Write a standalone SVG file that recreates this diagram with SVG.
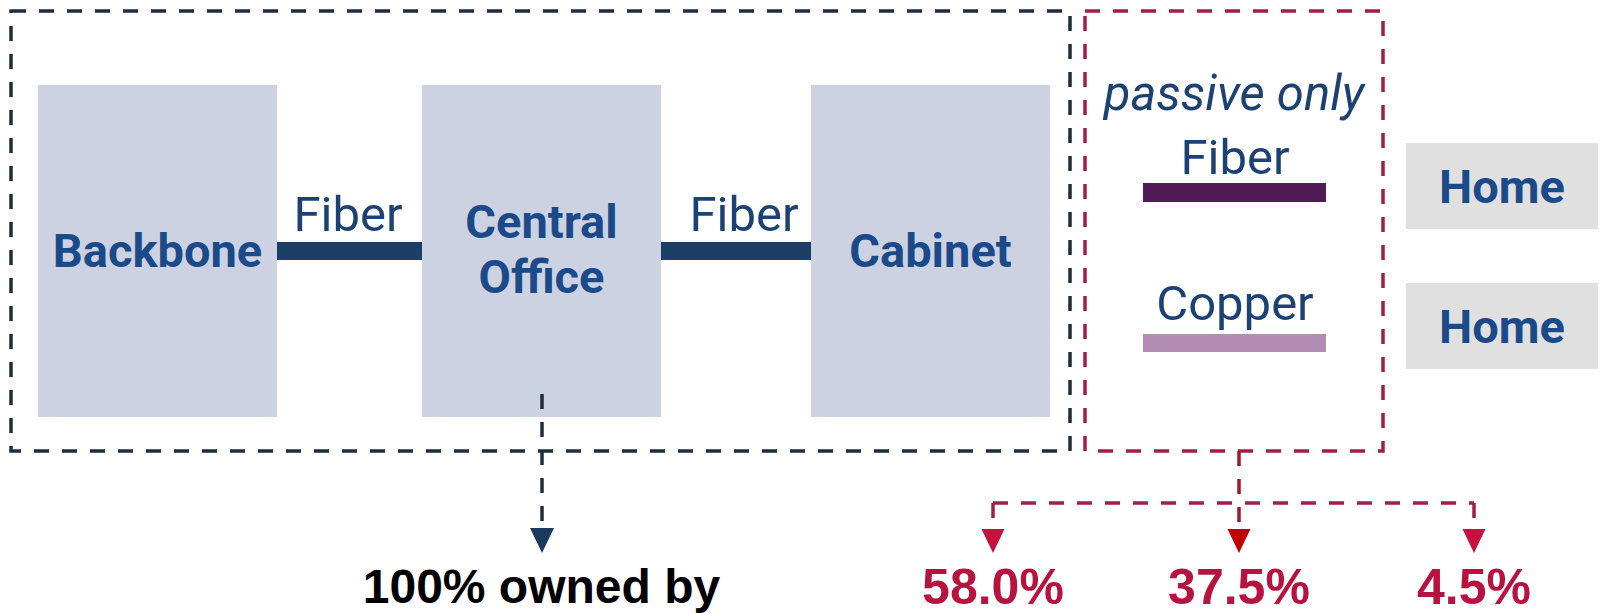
<svg xmlns="http://www.w3.org/2000/svg" width="1604" height="613" viewBox="0 0 1604 613">
<style>
.box{fill:#cdd2e3}
.home{fill:#e0e0e0}
.bold{font-family:Roboto,"Liberation Sans",sans-serif;font-weight:bold;font-size:47px;fill:#1b4a8a;text-anchor:middle}
.reg{font-family:Roboto,"Liberation Sans",sans-serif;font-size:49px;fill:#1b4272;text-anchor:middle}
.dkdash{fill:none;stroke:#1e2d3d;stroke-width:3.5;stroke-dasharray:15 13}
.rddash{fill:none;stroke:#a51d47;stroke-width:3.5;stroke-dasharray:15 13}
.pct{font-family:"Liberation Sans",Arial,sans-serif;font-weight:bold;font-size:50px;fill:#b8133f;text-anchor:middle}
</style>
<rect width="1604" height="613" fill="#ffffff"/>
<g id="frames">
<rect class="dkdash" x="11" y="11" width="1059" height="440"/>
<rect class="rddash" x="1085" y="11" width="298" height="440"/>
</g>
<g id="backbone"><rect class="box" x="38" y="85" width="239" height="332"/><text class="bold" x="157.5" y="267">Backbone</text></g>
<g id="central-office"><rect class="box" x="422" y="85" width="239" height="332"/><text class="bold" x="541.5" y="238">Central</text><text class="bold" x="541.5" y="293">Office</text></g>
<g id="cabinet"><rect class="box" x="811" y="85" width="239" height="332"/><text class="bold" x="930.5" y="267">Cabinet</text></g>
<g id="passive">
<text class="reg" x="1234" y="110" font-style="italic">passive only</text>
<text class="reg" x="1235" y="174">Fiber</text>
<rect x="1143" y="183" width="183" height="19" fill="#4f1a55"/>
<text class="reg" x="1235" y="320">Copper</text>
<rect x="1143" y="334" width="183" height="18" fill="#b38cb4"/>
</g>
<g id="home1"><rect class="home" x="1406" y="143" width="192" height="86"/><text class="bold" x="1502" y="203" font-size="49">Home</text></g>
<g id="home2"><rect class="home" x="1406" y="283" width="192" height="86"/><text class="bold" x="1502" y="343" font-size="49">Home</text></g>
<g id="connectors">
<rect x="277" y="242" width="145" height="18" fill="#1b3f66"/>
<text class="reg" x="348" y="231">Fiber</text>
<rect x="661" y="242" width="150" height="18" fill="#1b3f66"/>
<text class="reg" x="744" y="231">Fiber</text>
<path class="dkdash" d="M542,394 V528"/>
<polygon points="530,528 554,528 542,553" fill="#1b3a5c"/>
<path class="rddash" d="M1239,451 V528" style="stroke:#a0182e"/>
<path class="rddash" d="M993,503 H1474"/>
<path class="rddash" d="M993,503 V529"/>
<path class="rddash" d="M1474,503 V529"/>
<polygon points="981.5,529 1004.5,529 993,553" fill="#c8103e"/>
<polygon points="1227.5,529 1250.5,529 1239,553" fill="#c00000"/>
<polygon points="1462.5,529 1485.5,529 1474,553" fill="#c8103e"/>
</g>
<g id="labels">
<text x="541.5" y="603" font-family="'Liberation Sans',Arial,sans-serif" font-weight="bold" font-size="48" fill="#000000" text-anchor="middle">100% owned by</text>
<text class="pct" x="993" y="604">58.0%</text>
<text class="pct" x="1239" y="604">37.5%</text>
<text class="pct" x="1474" y="604">4.5%</text>
</g>
</svg>
